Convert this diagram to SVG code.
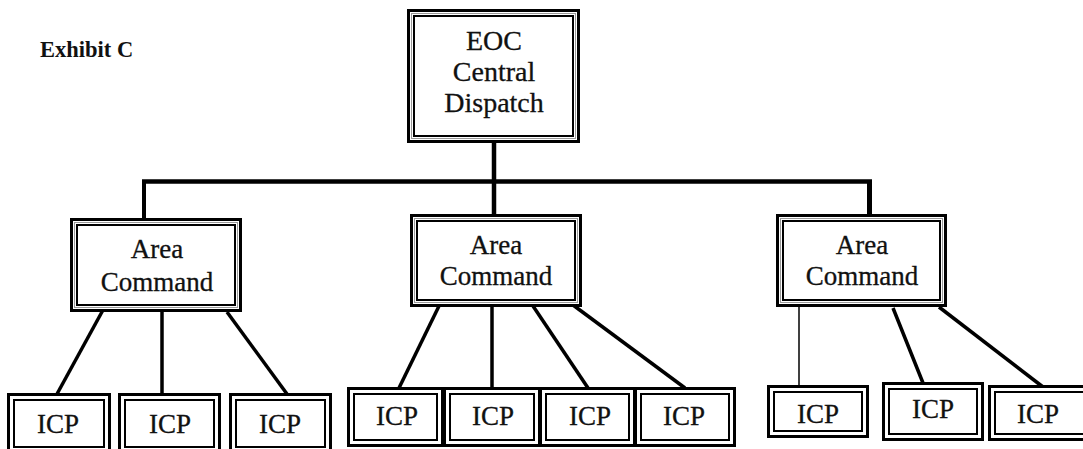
<svg xmlns="http://www.w3.org/2000/svg" width="1083" height="449" viewBox="0 0 1083 449">
<style>
.o{fill:#fff;stroke:#000;stroke-width:3}
.m{fill:none;stroke:#999;stroke-width:1}
.i{fill:none;stroke:#000;stroke-width:2}
.c{stroke:#000;stroke-width:3.5;fill:none;stroke-linecap:butt}
</style>
<rect width="1083" height="449" fill="#fff"/>
<text x="40" y="57" font-family="Liberation Serif, serif" font-weight="bold" font-size="22.5" fill="#111">Exhibit C</text>
<g id="connectors">
<line class="c" x1="494" y1="143" x2="494" y2="214" style="stroke-width:4.5"/>
<line class="c" x1="142" y1="181.5" x2="872" y2="181.5" style="stroke-width:4.5"/>
<line class="c" x1="144" y1="180" x2="144" y2="218" style="stroke-width:4"/>
<line class="c" x1="869.5" y1="180" x2="869.5" y2="214" style="stroke-width:5"/>
<line class="c" x1="103" y1="310" x2="57" y2="394"/>
<line class="c" x1="162" y1="311" x2="162" y2="394"/>
<line class="c" x1="227" y1="312" x2="287" y2="394"/>
<line class="c" x1="439" y1="306" x2="399" y2="388"/>
<line class="c" x1="492" y1="306" x2="492" y2="388"/>
<line class="c" x1="533" y1="306" x2="588" y2="388"/>
<line class="c" x1="573" y1="305" x2="685" y2="388"/>
<line class="c" x1="799" y1="305" x2="799" y2="386" style="stroke-width:1.5"/>
<line class="c" x1="893" y1="308" x2="923" y2="383"/>
<line class="c" x1="939" y1="307" x2="1043" y2="387"/>
</g>
<g font-family="Liberation Serif, serif" font-size="27" fill="#111" stroke="#111" stroke-width="0.3" text-anchor="middle">
<g id="eoc">
<rect class="o" x="408.5" y="10.5" width="170" height="131"/>
<rect class="m" x="411.5" y="13.5" width="164" height="125"/>
<rect class="i" x="414" y="16" width="159" height="120"/>
<text x="494" y="50" font-size="28">EOC</text>
<text x="494" y="81" font-size="28">Central</text>
<text x="494" y="112" font-size="28">Dispatch</text>
</g>
<g id="area1">
<rect class="o" x="71.5" y="219.5" width="169" height="91"/>
<rect class="m" x="74.5" y="222.5" width="163" height="85"/>
<rect class="i" x="77" y="225" width="158" height="80"/>
<text x="157" y="258">Area</text>
<text x="157" y="291">Command</text>
</g>
<g id="area2">
<rect class="o" x="411.5" y="215.5" width="169" height="90"/>
<rect class="m" x="414.5" y="218.5" width="163" height="84"/>
<rect class="i" x="417" y="221" width="158" height="79"/>
<text x="496" y="254">Area</text>
<text x="496" y="285">Command</text>
</g>
<g id="area3">
<rect class="o" x="777.5" y="215.5" width="168" height="90"/>
<rect class="m" x="780.5" y="218.5" width="162" height="84"/>
<rect class="i" x="783" y="221" width="157" height="79"/>
<text x="862" y="254">Area</text>
<text x="862" y="285">Command</text>
</g>
<g id="icp1">
<rect class="o" x="8.5" y="394.5" width="101" height="58"/>
<rect class="i" x="14" y="400" width="90" height="47"/>
<text x="58" y="433">ICP</text>
</g>
<g id="icp2">
<rect class="o" x="119.5" y="394.5" width="100" height="58"/>
<rect class="i" x="125" y="400" width="89" height="47"/>
<text x="170" y="433">ICP</text>
</g>
<g id="icp3">
<rect class="o" x="230.5" y="394.5" width="100" height="58"/>
<rect class="i" x="236" y="400" width="89" height="47"/>
<text x="280" y="433">ICP</text>
</g>
<g id="icp4">
<rect class="o" x="348.5" y="388.5" width="94" height="57"/>
<rect class="i" x="354" y="394" width="83" height="46"/>
<text x="397" y="425">ICP</text>
</g>
<g id="icp5">
<rect class="o" x="444.5" y="388.5" width="95" height="57"/>
<rect class="i" x="450" y="394" width="84" height="46"/>
<text x="493" y="425">ICP</text>
</g>
<g id="icp6">
<rect class="o" x="540.5" y="388.5" width="94" height="57"/>
<rect class="i" x="546" y="394" width="83" height="46"/>
<text x="590" y="425">ICP</text>
</g>
<g id="icp7">
<rect class="o" x="635.5" y="388.5" width="99" height="57"/>
<rect class="i" x="641" y="394" width="88" height="46"/>
<text x="684" y="425">ICP</text>
</g>
<g id="icp8">
<rect class="o" x="768.5" y="386.5" width="99" height="50"/>
<rect class="i" x="774" y="392" width="88" height="39"/>
<text x="818" y="423">ICP</text>
</g>
<g id="icp9">
<rect class="o" x="883.5" y="383.5" width="99" height="56"/>
<rect class="i" x="889" y="389" width="88" height="45"/>
<text x="933" y="418">ICP</text>
</g>
<g id="icp10">
<rect class="o" x="989.5" y="386.5" width="100" height="53"/>
<rect class="i" x="995" y="392" width="90" height="42"/>
<text x="1038" y="423">ICP</text>
</g>
</g>
</svg>
